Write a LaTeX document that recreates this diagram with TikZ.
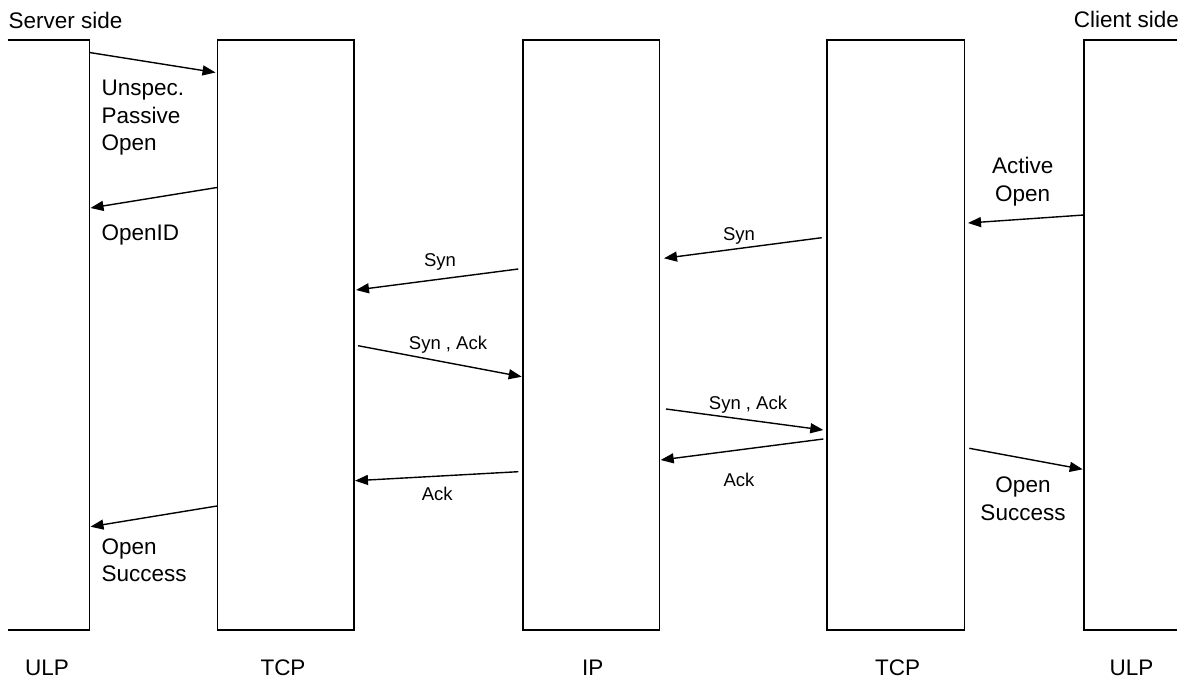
\documentclass[tikz,border=0pt]{standalone}
\usepackage{fontspec}
\setmainfont{Liberation Sans}
\usetikzlibrary{arrows.meta}

\begin{document}
\begin{tikzpicture}[x=1pt,y=-1pt,
  layer/.style={draw, line width=1.4pt, minimum width=136.5pt, minimum height=590pt, inner sep=0pt, outer sep=0pt},
  msg/.style={line width=1.4pt, -{Triangle[length=13pt,width=10pt]}},
  big/.style={inner sep=0pt, font=\fontsize{22.5}{27.3}\selectfont},
  small/.style={inner sep=0pt, anchor=base, font=\fontsize{18.5}{22}\selectfont}]
\useasboundingbox (0,0) rectangle (1185,680);

\node[big, anchor=base west] (server) at (8.5,28) {Server side};
\node[big, anchor=base east] (client) at (1179,27.5) {Client side};

\draw[line width=1.4pt] (7.5,40) -- (89.5,40) -- (89.5,630) -- (7.5,630);
\node[layer] (tcpS) at (285.75,335) {};
\node[layer] (ip) at (591.25,335) {};
\node[layer, minimum width=137.5pt] (tcpC) at (895.75,335) {};
\draw[line width=1.4pt] (1177,40) -- (1084,40) -- (1084,630) -- (1177,630);

\node[big, anchor=base] (ulpSname) at (47,675) {ULP};
\node[big, anchor=base] (tcpSname) at (283,675) {TCP};
\node[big, anchor=base] (ipname) at (592.7,675) {IP};
\node[big, anchor=base] (tcpCname) at (897.5,675) {TCP};
\node[big, anchor=base] (ulpCname) at (1131.5,675) {ULP};

\coordinate (o1) at (89.5,52.5);   \coordinate (i1) at (215.5,72.5);
\coordinate (o2) at (217,187.5);   \coordinate (i2) at (90.5,208);
\coordinate (o3) at (1084,215);    \coordinate (i3) at (968,223);
\coordinate (o4) at (821.7,237.7); \coordinate (i4) at (664,258.3);
\coordinate (o5) at (518.3,269);   \coordinate (i5) at (356,290);
\coordinate (o6) at (358,345.7);   \coordinate (i6) at (521.7,376.7);
\coordinate (o7) at (666,409);     \coordinate (i7) at (823.3,430);
\coordinate (o8) at (823.3,439);   \coordinate (i8) at (660.7,460);
\coordinate (o9) at (518.3,471.7); \coordinate (i9) at (355,480.7);
\coordinate (o10) at (217,506);    \coordinate (i10) at (90.5,526.7);
\coordinate (o11) at (969.3,448.3);\coordinate (i11) at (1082.7,469.3);

\draw[msg] (o1) -- (i1);
\draw[msg] (o2) -- (i2);
\draw[msg] (o3) -- (i3);
\draw[msg] (o4) -- (i4);
\draw[msg] (o5) -- (i5);
\draw[msg] (o6) -- (i6);
\draw[msg] (o7) -- (i7);
\draw[msg] (o8) -- (i8);
\draw[msg] (o9) -- (i9);
\draw[msg] (o10) -- (i10);
\draw[msg] (o11) -- (i11);

\node[big, anchor=base west, align=left] (passive) at (101.5,150.5) {Unspec.\\Passive\\Open};
\node[big, anchor=base west] (openid) at (101.5,240.5) {OpenID};
\node[big, anchor=base west, align=left] (successS) at (101.5,581.7) {Open\\Success};
\node[big, anchor=base, align=center] (active) at (1022.7,201) {Active\\Open};
\node[big, anchor=base, align=center] (successC) at (1023,520) {Open\\Success};

\node[small] (syn1) at (739,240) {Syn};
\node[small] (syn2) at (440,266.5) {Syn};
\node[small] (synack1) at (448,349) {Syn , Ack};
\node[small] (synack2) at (748,409.3) {Syn , Ack};
\node[small] (ack1) at (739,486) {Ack};
\node[small] (ack2) at (437.3,500) {Ack};
\end{tikzpicture}
\end{document}
